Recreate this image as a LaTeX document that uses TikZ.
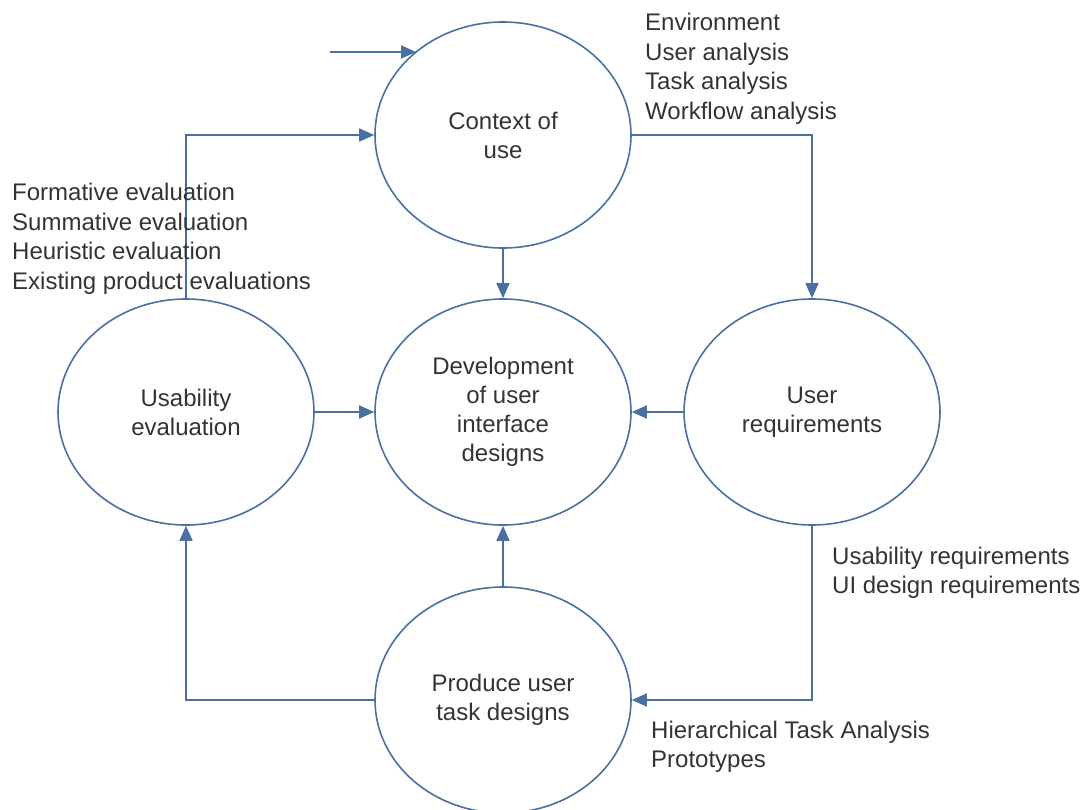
\documentclass[tikz,border=0pt]{standalone}
\usepackage{fontspec}
\setmainfont{Liberation Sans}
\usepackage{xcolor}
\usetikzlibrary{arrows.meta,positioning,shapes.geometric}

\definecolor{flowblue}{HTML}{4A70A3}
\definecolor{labelgray}{HTML}{333333}

\tikzset{
  stage/.style={ellipse, draw=flowblue, line width=1.6pt, inner sep=0pt,
    minimum width=256pt, minimum height=226pt, align=center,
    text=labelgray, font=\fontsize{24}{29}\selectfont},
  flow/.style={draw=flowblue, line width=1.6pt,
    -{Triangle[length=15pt,width=13pt]}},
  notes/.style={align=left, anchor=west, inner sep=0pt,
    text=labelgray, font=\fontsize{24}{29.5}\selectfont}
}

\begin{document}
\begin{tikzpicture}[x=1pt,y=-1pt]
  \useasboundingbox (0,0) rectangle (1086,809);

  % the five stages
  \node[stage] (ctx)  at (503,135) {Context of\\use};
  \node[stage] (dev)  at (503,412) {Development\\of user\\interface\\designs};
  \node[stage] (usab) at (186,412) {Usability\\evaluation};
  \node[stage] (ureq) at (812,412) {User\\requirements};
  \node[stage] (prod) at (503,700) {Produce user\\task designs};

  % entry into the cycle
  \coordinate (entry) at (330,52);
  \draw[flow] (entry) -- (entry -| ctx.136);

  % connectors
  \draw[flow] (usab.north) |- (ctx.west);
  \draw[flow] (ctx.east) -| (ureq.north);
  \draw[flow] (ctx.south) -- (dev.north);
  \draw[flow] (usab.east) -- (dev.west);
  \draw[flow] (ureq.west) -- (dev.east);
  \draw[flow] (prod.north) -- (dev.south);
  \draw[flow] (ureq.south) |- (prod.east);
  \draw[flow] (prod.west) -| (usab.south);

  % activity lists
  \node[notes] (ctxnotes)  at (645,69)  {Environment\\User analysis\\Task analysis\\Workflow analysis};
  \node[notes] (usabnotes) at (12,239)  {Formative evaluation\\Summative evaluation\\Heuristic evaluation\\Existing product evaluations};
  \node[notes] (ureqnotes) at (832,573) {Usability requirements\\UI design requirements};
  \node[notes] (prodnotes) at (651,747) {Hierarchical Task Analysis\\Prototypes};
\end{tikzpicture}
\end{document}
